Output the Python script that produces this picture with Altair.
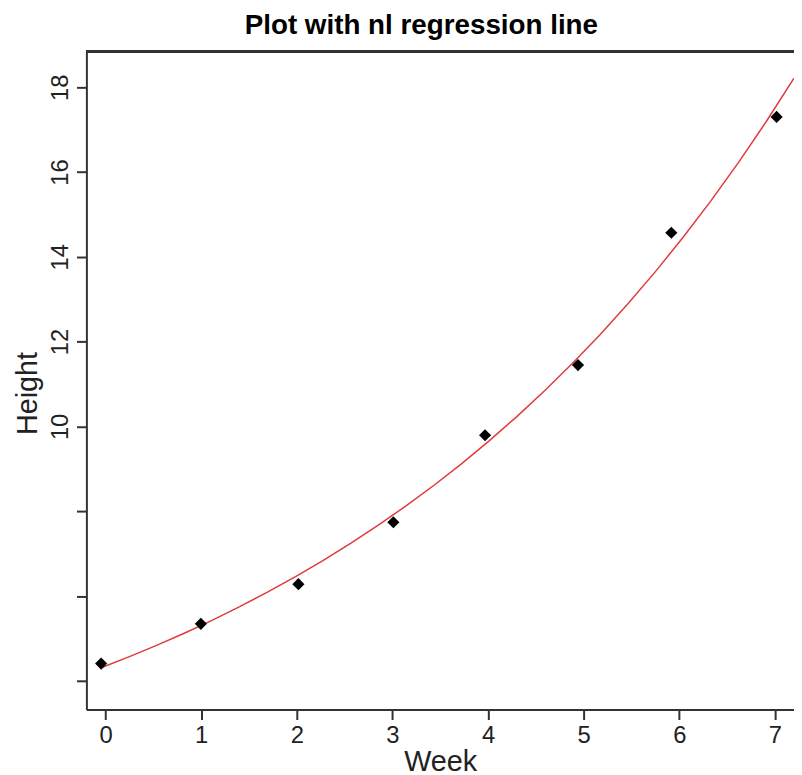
import altair as alt
import pandas as pd

week = [-0.046, 0.997, 2.017, 3.01, 3.969, 4.941, 5.917, 7.018]
height = [4.405, 5.342, 6.278, 7.739, 9.790, 11.446, 14.567, 17.299]
y_ticks = [4, 6, 8, 10, 12, 14, 16, 18]
x_ticks = [0, 1, 2, 3, 4, 5, 6, 7]

df = pd.DataFrame({"Week": week, "Height": height})

W, H = 713, 663
FONT = "Liberation Sans"

xs = alt.Scale(domain=[-0.2, 7.2], nice=False, zero=False)
ys = alt.Scale(domain=[3.32, 18.84], nice=False, zero=False)

base = alt.Chart(df)

points = base.mark_point(shape="diamond", filled=True, color="black", size=150, opacity=1).encode(
    x=alt.X("Week:Q", scale=xs,
            axis=alt.Axis(values=x_ticks, title="Week", format="d")),
    y=alt.Y("Height:Q", scale=ys,
            axis=alt.Axis(values=y_ticks, title="Height", titleY=344,
                          labelExpr="datum.value >= 10 ? datum.label : ''")),
)

line = base.transform_regression(
    "Week", "Height", method="exp", extent=[-0.046, 7.2]
).mark_line(color="#e23a3a", strokeWidth=1.5, clip=True).encode(
    x=alt.X("Week:Q", scale=xs),
    y=alt.Y("Height:Q", scale=ys),
)

top = alt.Chart(df).mark_rule(color="#333333", strokeWidth=2).encode(
    x=alt.value(0), x2=alt.value(W), y=alt.value(0)
)

chart = alt.layer(line, points, top).properties(
    width=W, height=H,
    title=alt.TitleParams("Plot with nl regression line", font=FONT, fontSize=28,
                          fontWeight="bold", color="black", offset=11, dx=-19),
    autosize=alt.AutoSizeParams(type="none"),
    padding={"left": 79, "top": 41, "right": 0, "bottom": 66},
).configure_view(stroke=None).configure_axis(
    grid=False,
    domainColor="#333333", domainWidth=2,
    tickColor="#333333", tickWidth=2, tickSize=10,
    labelFont=FONT, labelFontSize=24, labelColor="#222222", labelPadding=4,
    titleFont=FONT, titleFontSize=29, titleFontWeight="normal", titleColor="#222222",
).configure_axisX(
    titlePadding=0,
).configure_axisY(
    labelAngle=270, labelAlign="center", labelBaseline="bottom", titlePadding=6,
)

chart.save("out.html", embed_options={"renderer": "svg", "actions": False})
